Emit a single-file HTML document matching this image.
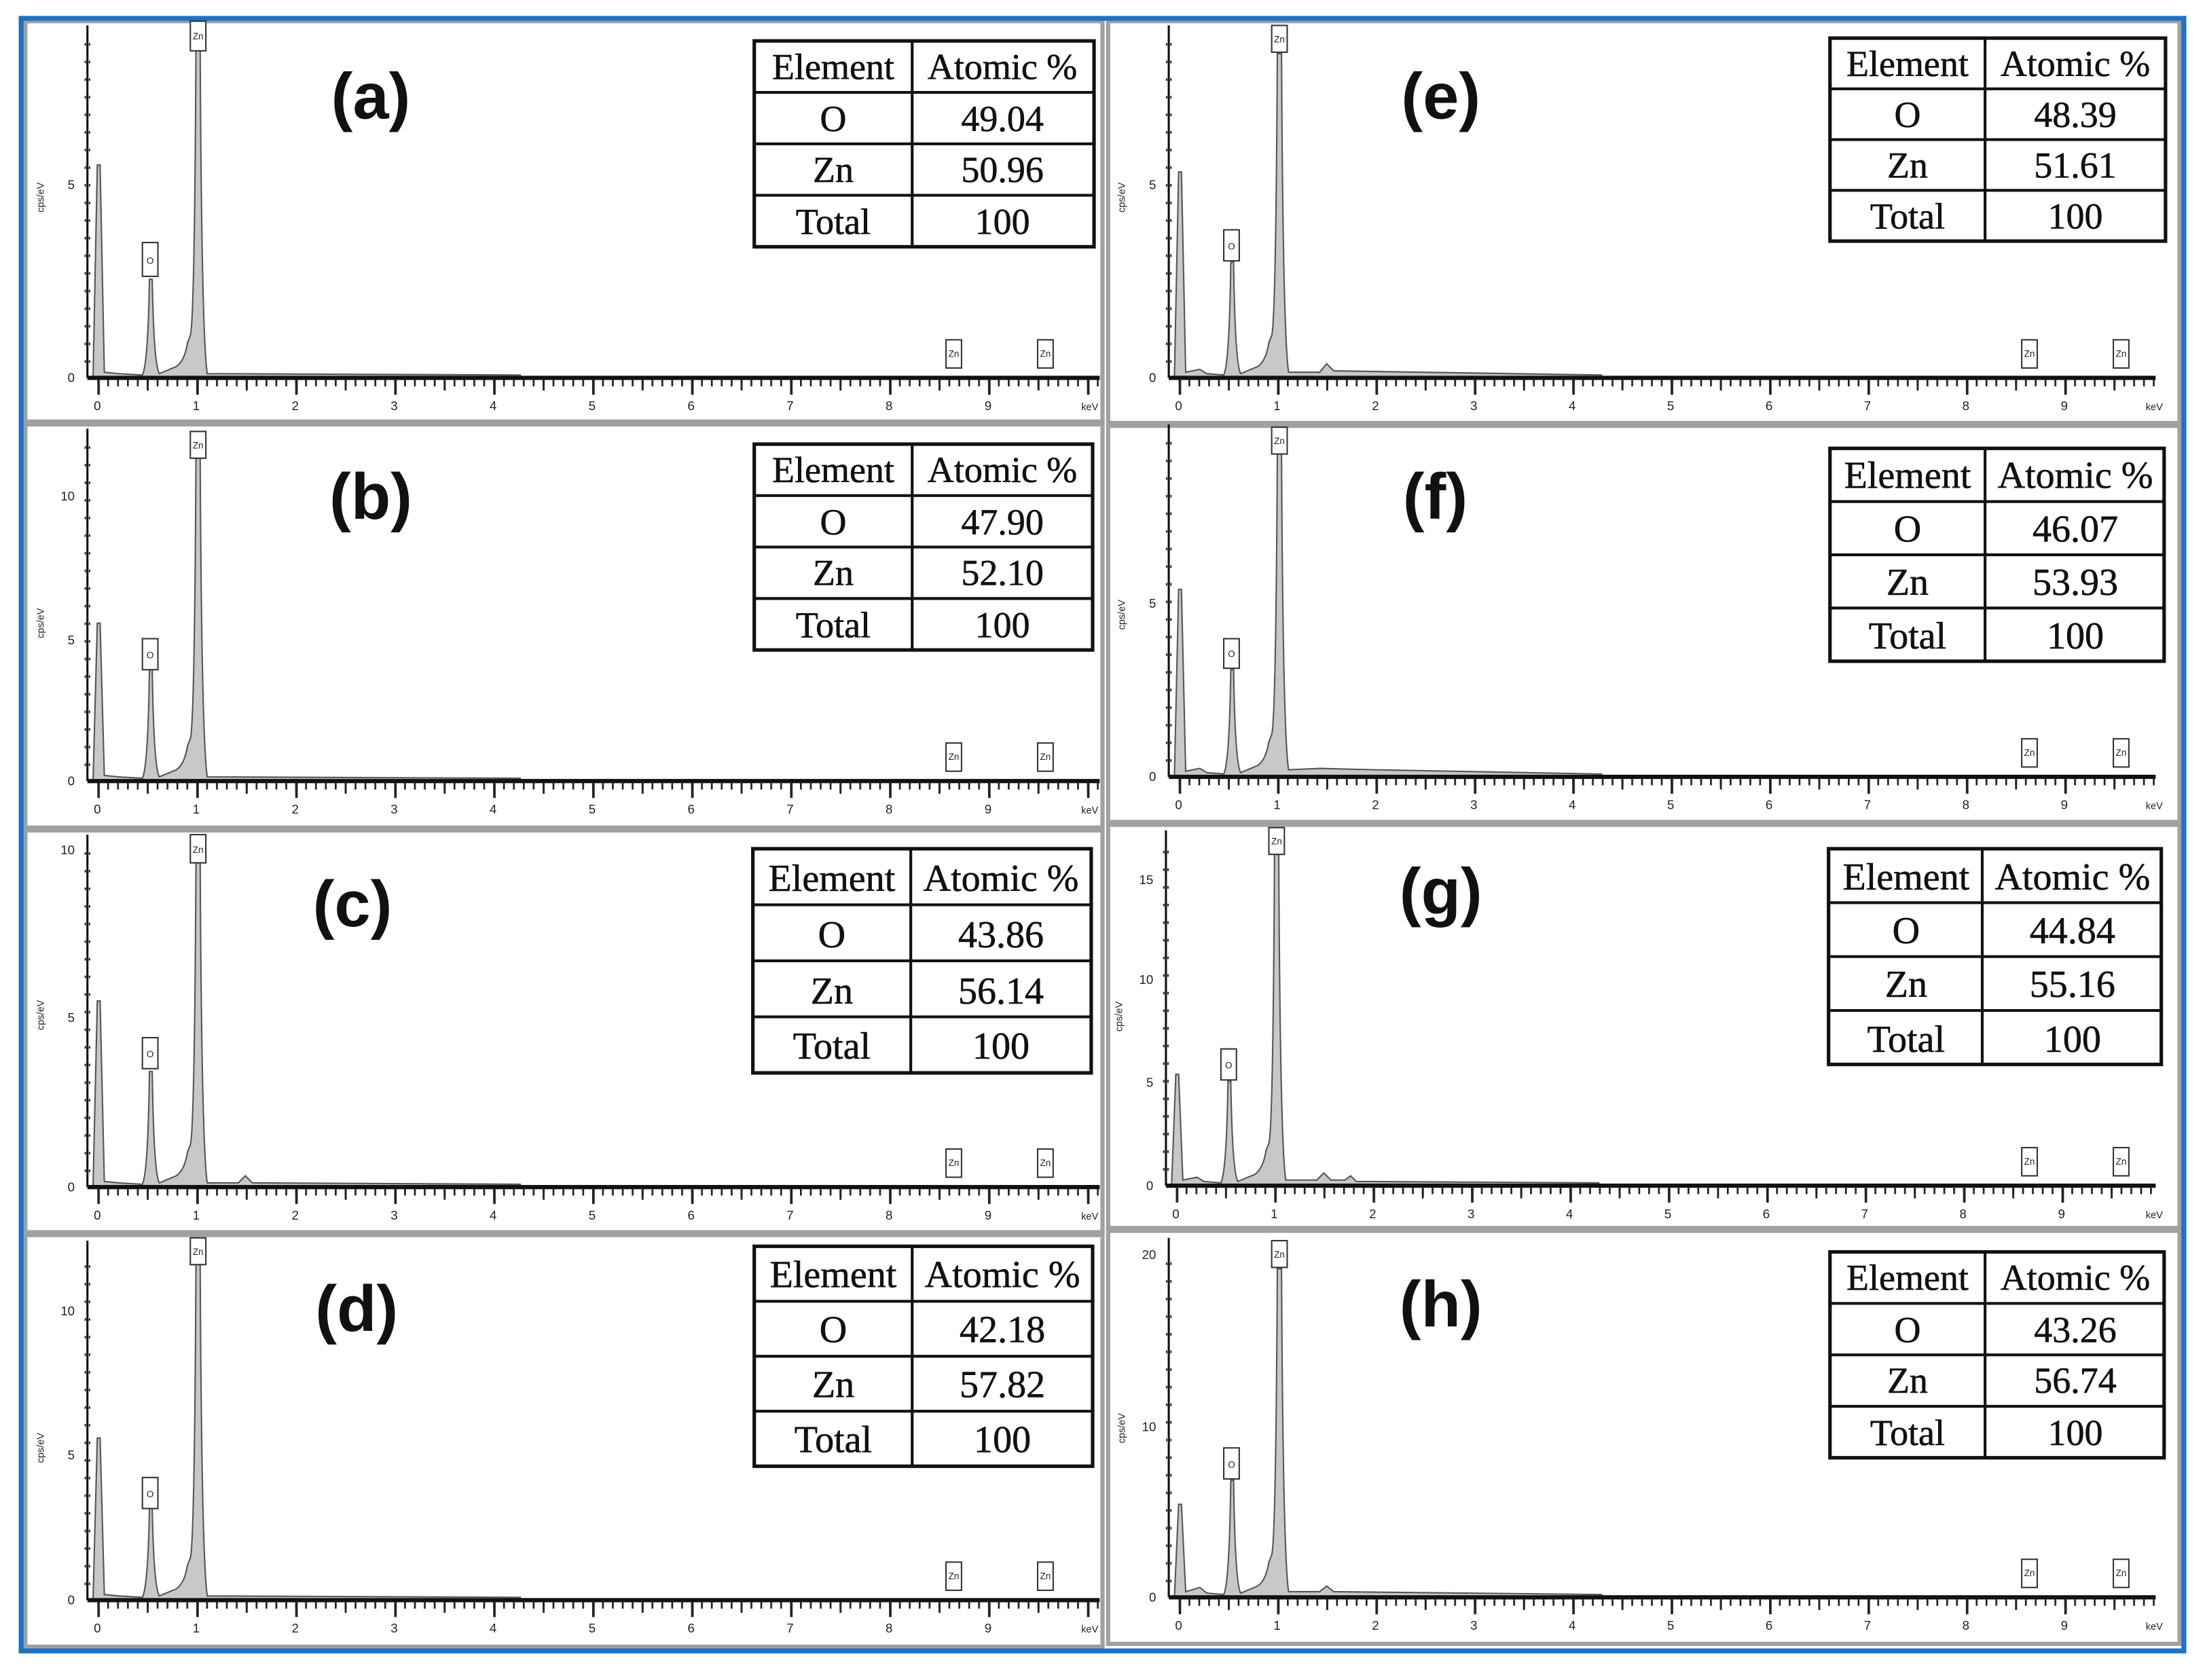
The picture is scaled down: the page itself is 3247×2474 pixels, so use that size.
<!DOCTYPE html>
<html><head><meta charset="utf-8"><style>html,body{margin:0;padding:0;background:#fff}svg{display:block}</style></head>
<body>
<svg xmlns="http://www.w3.org/2000/svg" width="3247" height="2474" viewBox="0 0 1564 1191.6">
<defs>
<pattern id="mnL" patternUnits="userSpaceOnUse" x="0" y="0" width="7.02" height="12"><rect x="0" y="0" width="1.3" height="6" fill="#222"/></pattern>
<pattern id="mjL" patternUnits="userSpaceOnUse" x="0" y="0" width="70.2" height="14"><rect x="0" y="0" width="1.8" height="12" fill="#222"/><rect x="35.1" y="0" width="1.4" height="9" fill="#222"/></pattern>
<pattern id="mnR" patternUnits="userSpaceOnUse" x="0" y="0" width="6.98" height="12"><rect x="0" y="0" width="1.3" height="6" fill="#222"/></pattern>
<pattern id="mjR" patternUnits="userSpaceOnUse" x="0" y="0" width="69.8" height="14"><rect x="0" y="0" width="1.8" height="12" fill="#222"/><rect x="34.9" y="0" width="1.4" height="9" fill="#222"/></pattern>
<pattern id="yt" patternUnits="userSpaceOnUse" x="0" y="0" width="6" height="12.5"><rect x="0" y="0" width="4" height="1.8" fill="#222"/></pattern>
</defs>
<rect width="1564" height="1191.6" fill="#fff"/>
<g fill="none" stroke="#a0a0a0" stroke-width="3">
<rect x="18" y="15" width="764" height="284"/><rect x="18" y="301" width="764" height="286"/><rect x="18" y="589" width="764" height="285"/><rect x="18" y="876" width="764" height="292"/>
<rect x="786" y="15" width="760" height="285"/><rect x="786" y="302" width="760" height="281"/><rect x="786" y="585" width="760" height="286"/><rect x="786" y="873" width="760" height="293"/>
</g>
<rect x="15" y="13" width="1534" height="1158" fill="none" stroke="#1a72c9" stroke-width="3.5"/>

<g font-family="Liberation Sans, sans-serif">
<g transform="translate(69,268)">
<rect x="-9" y="-248" width="4" height="248" fill="url(#yt)"/><line x1="-7" y1="-250" x2="-7" y2="0" stroke="#111" stroke-width="1.5"/>
<path d="M-3,0 L0,-151 L2,-151 L5,-4 L15,-3 L32,-2 Q36,-10 37,-70 L39,-70 Q40,-10 44,-3 L56,-8 Q62,-12 64,-25 L66,-30 Q69,-40 70,-233 L73,-233 Q74,-30 78,-3 L300,-2 L300,0 Z" fill="#c8c8c8" stroke="#555" stroke-width="1"/>
<rect x="-7" y="-1.5" width="718" height="3" fill="#111"/><rect x="0" y="1" width="711" height="6" fill="url(#mnL)"/><rect x="0" y="1" width="711" height="12" fill="url(#mjL)"/>
<g font-size="9" fill="#222" text-anchor="middle"><text x="0" y="23">0</text><text x="70.2" y="23">1</text><text x="140.4" y="23">2</text><text x="210.6" y="23">3</text><text x="280.8" y="23">4</text><text x="351" y="23">5</text><text x="421.2" y="23">6</text><text x="491.4" y="23">7</text><text x="561.6" y="23">8</text><text x="631.8" y="23">9</text><text x="704" y="23" font-size="7">keV</text>
<text x="-16" y="3" text-anchor="end">0</text><text x="-16" y="-134" text-anchor="end">5</text>
<text transform="translate(-38,-128) rotate(-90)" font-size="7">cps/eV</text></g>
<g fill="#fff" stroke="#333" stroke-width="1"><rect x="32" y="-96" width="11" height="24"/><rect x="66" y="-253" width="11" height="21"/><rect x="602" y="-27" width="11" height="20"/><rect x="667" y="-27" width="11" height="20"/></g>
<g font-size="6.5" fill="#222" text-anchor="middle"><text x="37.5" y="-81">O</text><text x="71.5" y="-240">Zn</text><text x="607.5" y="-15">Zn</text><text x="672.5" y="-15">Zn</text></g>
</g>

<g transform="translate(69,554)">
<rect x="-9" y="-248" width="4" height="248" fill="url(#yt)"/><line x1="-7" y1="-250" x2="-7" y2="0" stroke="#111" stroke-width="1.5"/>
<path d="M-3,0 L0,-112 L2,-112 L5,-4 L15,-3 L32,-2 Q36,-10 37,-79 L39,-79 Q40,-10 44,-3 L56,-8 Q62,-12 64,-25 L66,-30 Q69,-40 70,-229 L73,-229 Q74,-30 78,-3 L300,-2 L300,0 Z" fill="#c8c8c8" stroke="#555" stroke-width="1"/>
<rect x="-7" y="-1.5" width="718" height="3" fill="#111"/><rect x="0" y="1" width="711" height="6" fill="url(#mnL)"/><rect x="0" y="1" width="711" height="12" fill="url(#mjL)"/>
<g font-size="9" fill="#222" text-anchor="middle"><text x="0" y="23">0</text><text x="70.2" y="23">1</text><text x="140.4" y="23">2</text><text x="210.6" y="23">3</text><text x="280.8" y="23">4</text><text x="351" y="23">5</text><text x="421.2" y="23">6</text><text x="491.4" y="23">7</text><text x="561.6" y="23">8</text><text x="631.8" y="23">9</text><text x="704" y="23" font-size="7">keV</text>
<text x="-16" y="3" text-anchor="end">0</text><text x="-16" y="-97" text-anchor="end">5</text><text x="-16" y="-199" text-anchor="end">10</text>
<text transform="translate(-38,-112) rotate(-90)" font-size="7">cps/eV</text></g>
<g fill="#fff" stroke="#333" stroke-width="1"><rect x="32" y="-101" width="11" height="22"/><rect x="66" y="-248" width="11" height="19"/><rect x="602" y="-27" width="11" height="20"/><rect x="667" y="-27" width="11" height="20"/></g>
<g font-size="6.5" fill="#222" text-anchor="middle"><text x="37.5" y="-87">O</text><text x="71.5" y="-236">Zn</text><text x="607.5" y="-15">Zn</text><text x="672.5" y="-15">Zn</text></g>
</g>

<g transform="translate(69,842)">
<rect x="-9" y="-248" width="4" height="248" fill="url(#yt)"/><line x1="-7" y1="-250" x2="-7" y2="0" stroke="#111" stroke-width="1.5"/>
<path d="M-3,0 L0,-132 L2,-132 L5,-4 L15,-3 L32,-2 Q36,-10 37,-82 L39,-82 Q40,-10 44,-3 L56,-8 Q62,-12 64,-25 L66,-30 Q69,-40 70,-230 L73,-230 Q74,-30 78,-3 L100,-3 L105,-8 L110,-3 L300,-2 L300,0 Z" fill="#c8c8c8" stroke="#555" stroke-width="1"/>
<rect x="-7" y="-1.5" width="718" height="3" fill="#111"/><rect x="0" y="1" width="711" height="6" fill="url(#mnL)"/><rect x="0" y="1" width="711" height="12" fill="url(#mjL)"/>
<g font-size="9" fill="#222" text-anchor="middle"><text x="0" y="23">0</text><text x="70.2" y="23">1</text><text x="140.4" y="23">2</text><text x="210.6" y="23">3</text><text x="280.8" y="23">4</text><text x="351" y="23">5</text><text x="421.2" y="23">6</text><text x="491.4" y="23">7</text><text x="561.6" y="23">8</text><text x="631.8" y="23">9</text><text x="704" y="23" font-size="7">keV</text>
<text x="-16" y="3" text-anchor="end">0</text><text x="-16" y="-117" text-anchor="end">5</text><text x="-16" y="-236" text-anchor="end">10</text>
<text transform="translate(-38,-122) rotate(-90)" font-size="7">cps/eV</text></g>
<g fill="#fff" stroke="#333" stroke-width="1"><rect x="32" y="-106" width="11" height="22"/><rect x="66" y="-250" width="11" height="20"/><rect x="602" y="-27" width="11" height="20"/><rect x="667" y="-27" width="11" height="20"/></g>
<g font-size="6.5" fill="#222" text-anchor="middle"><text x="37.5" y="-92">O</text><text x="71.5" y="-237">Zn</text><text x="607.5" y="-15">Zn</text><text x="672.5" y="-15">Zn</text></g>
</g>

<g transform="translate(69,1135)">
<rect x="-9" y="-248" width="4" height="248" fill="url(#yt)"/><line x1="-7" y1="-255" x2="-7" y2="0" stroke="#111" stroke-width="1.5"/>
<path d="M-3,0 L0,-115 L2,-115 L5,-4 L15,-3 L32,-2 Q36,-10 37,-65 L39,-65 Q40,-10 44,-3 L56,-8 Q62,-12 64,-25 L66,-30 Q69,-40 70,-238 L73,-238 Q74,-30 78,-3 L300,-2 L300,0 Z" fill="#c8c8c8" stroke="#555" stroke-width="1"/>
<rect x="-7" y="-1.5" width="718" height="3" fill="#111"/><rect x="0" y="1" width="711" height="6" fill="url(#mnL)"/><rect x="0" y="1" width="711" height="12" fill="url(#mjL)"/>
<g font-size="9" fill="#222" text-anchor="middle"><text x="0" y="23">0</text><text x="70.2" y="23">1</text><text x="140.4" y="23">2</text><text x="210.6" y="23">3</text><text x="280.8" y="23">4</text><text x="351" y="23">5</text><text x="421.2" y="23">6</text><text x="491.4" y="23">7</text><text x="561.6" y="23">8</text><text x="631.8" y="23">9</text><text x="704" y="23" font-size="7">keV</text>
<text x="-16" y="3" text-anchor="end">0</text><text x="-16" y="-100" text-anchor="end">5</text><text x="-16" y="-202" text-anchor="end">10</text>
<text transform="translate(-38,-108) rotate(-90)" font-size="7">cps/eV</text></g>
<g fill="#fff" stroke="#333" stroke-width="1"><rect x="32" y="-87" width="11" height="22"/><rect x="66" y="-257" width="11" height="19"/><rect x="602" y="-27" width="11" height="20"/><rect x="667" y="-27" width="11" height="20"/></g>
<g font-size="6.5" fill="#222" text-anchor="middle"><text x="37.5" y="-73">O</text><text x="71.5" y="-245">Zn</text><text x="607.5" y="-15">Zn</text><text x="672.5" y="-15">Zn</text></g>
</g>

<g transform="translate(836,268)">
<rect x="-9" y="-248" width="4" height="248" fill="url(#yt)"/><line x1="-7" y1="-250" x2="-7" y2="0" stroke="#111" stroke-width="1.5"/>
<path d="M-3,0 L0,-146 L2,-146 L5,-4 L15,-6 L20,-3 L32,-2 Q36,-10 37,-82 L39,-82 Q40,-10 44,-3 L56,-8 Q62,-12 64,-25 L66,-30 Q69,-40 70,-230 L73,-230 Q74,-30 78,-4 L100,-4 L105,-10 L110,-5 L300,-2 L300,0 Z" fill="#c8c8c8" stroke="#555" stroke-width="1"/>
<rect x="-7" y="-1.5" width="700" height="3" fill="#111"/><rect x="0" y="1" width="693" height="6" fill="url(#mnR)"/><rect x="0" y="1" width="693" height="12" fill="url(#mjR)"/>
<g font-size="9" fill="#222" text-anchor="middle"><text x="0" y="23">0</text><text x="69.8" y="23">1</text><text x="139.6" y="23">2</text><text x="209.4" y="23">3</text><text x="279.2" y="23">4</text><text x="349" y="23">5</text><text x="418.8" y="23">6</text><text x="488.6" y="23">7</text><text x="558.4" y="23">8</text><text x="628.2" y="23">9</text><text x="692" y="23" font-size="7">keV</text>
<text x="-16" y="3" text-anchor="end">0</text><text x="-16" y="-134" text-anchor="end">5</text>
<text transform="translate(-38,-128) rotate(-90)" font-size="7">cps/eV</text></g>
<g fill="#fff" stroke="#333" stroke-width="1"><rect x="32" y="-105" width="11" height="22"/><rect x="66" y="-250" width="11" height="19"/><rect x="598" y="-27" width="11" height="20"/><rect x="663" y="-27" width="11" height="20"/></g>
<g font-size="6.5" fill="#222" text-anchor="middle"><text x="37.5" y="-91">O</text><text x="71.5" y="-238">Zn</text><text x="603.5" y="-15">Zn</text><text x="668.5" y="-15">Zn</text></g>
</g>

<g transform="translate(836,551)">
<rect x="-9" y="-248" width="4" height="248" fill="url(#yt)"/><line x1="-7" y1="-250" x2="-7" y2="0" stroke="#111" stroke-width="1.5"/>
<path d="M-3,0 L0,-133 L2,-133 L5,-4 L15,-6 L20,-3 L32,-2 Q36,-10 37,-76 L39,-76 Q40,-10 44,-3 L56,-8 Q62,-12 64,-25 L66,-30 Q69,-40 70,-229 L73,-229 Q74,-30 78,-5 L100,-6 L140,-5 L300,-2 L300,0 Z" fill="#c8c8c8" stroke="#555" stroke-width="1"/>
<rect x="-7" y="-1.5" width="700" height="3" fill="#111"/><rect x="0" y="1" width="693" height="6" fill="url(#mnR)"/><rect x="0" y="1" width="693" height="12" fill="url(#mjR)"/>
<g font-size="9" fill="#222" text-anchor="middle"><text x="0" y="23">0</text><text x="69.8" y="23">1</text><text x="139.6" y="23">2</text><text x="209.4" y="23">3</text><text x="279.2" y="23">4</text><text x="349" y="23">5</text><text x="418.8" y="23">6</text><text x="488.6" y="23">7</text><text x="558.4" y="23">8</text><text x="628.2" y="23">9</text><text x="692" y="23" font-size="7">keV</text>
<text x="-16" y="3" text-anchor="end">0</text><text x="-16" y="-120" text-anchor="end">5</text>
<text transform="translate(-38,-115) rotate(-90)" font-size="7">cps/eV</text></g>
<g fill="#fff" stroke="#333" stroke-width="1"><rect x="32" y="-98" width="11" height="21"/><rect x="66" y="-248" width="11" height="19"/><rect x="598" y="-27" width="11" height="20"/><rect x="663" y="-27" width="11" height="20"/></g>
<g font-size="6.5" fill="#222" text-anchor="middle"><text x="37.5" y="-85">O</text><text x="71.5" y="-236">Zn</text><text x="603.5" y="-15">Zn</text><text x="668.5" y="-15">Zn</text></g>
</g>

<g transform="translate(834,841)">
<rect x="-9" y="-248" width="4" height="248" fill="url(#yt)"/><line x1="-7" y1="-252" x2="-7" y2="0" stroke="#111" stroke-width="1.5"/>
<path d="M-3,0 L0,-79 L2,-79 L5,-4 L15,-6 L20,-3 L32,-2 Q36,-10 37,-74 L39,-74 Q40,-10 44,-3 L56,-8 Q62,-12 64,-25 L66,-30 Q69,-40 70,-235 L73,-235 Q74,-30 78,-4 L100,-4 L105,-9 L110,-4 L120,-4 L124,-7 L128,-3 L300,-2 L300,0 Z" fill="#c8c8c8" stroke="#555" stroke-width="1"/>
<rect x="-7" y="-1.5" width="702" height="3" fill="#111"/><rect x="0" y="1" width="695" height="6" fill="url(#mnR)"/><rect x="0" y="1" width="695" height="12" fill="url(#mjR)"/>
<g font-size="9" fill="#222" text-anchor="middle"><text x="0" y="23">0</text><text x="69.8" y="23">1</text><text x="139.6" y="23">2</text><text x="209.4" y="23">3</text><text x="279.2" y="23">4</text><text x="349" y="23">5</text><text x="418.8" y="23">6</text><text x="488.6" y="23">7</text><text x="558.4" y="23">8</text><text x="628.2" y="23">9</text><text x="694" y="23" font-size="7">keV</text>
<text x="-16" y="3" text-anchor="end">0</text><text x="-16" y="-70" text-anchor="end">5</text><text x="-16" y="-143" text-anchor="end">10</text><text x="-16" y="-214" text-anchor="end">15</text>
<text transform="translate(-38,-120) rotate(-90)" font-size="7">cps/eV</text></g>
<g fill="#fff" stroke="#333" stroke-width="1"><rect x="32" y="-97" width="11" height="22"/><rect x="66" y="-254" width="11" height="19"/><rect x="600" y="-27" width="11" height="20"/><rect x="665" y="-27" width="11" height="20"/></g>
<g font-size="6.5" fill="#222" text-anchor="middle"><text x="37.5" y="-83">O</text><text x="71.5" y="-242">Zn</text><text x="605.5" y="-15">Zn</text><text x="670.5" y="-15">Zn</text></g>
</g>

<g transform="translate(836,1133)">
<rect x="-9" y="-248" width="4" height="248" fill="url(#yt)"/><line x1="-7" y1="-255" x2="-7" y2="0" stroke="#111" stroke-width="1.5"/>
<path d="M-3,0 L0,-66 L2,-66 L5,-4 L15,-7 L20,-3 L32,-2 Q36,-10 37,-83 L39,-83 Q40,-10 44,-3 L56,-8 Q62,-12 64,-25 L66,-30 Q69,-40 70,-233 L73,-233 Q74,-30 78,-4 L100,-4 L105,-8 L110,-4 L300,-2 L300,0 Z" fill="#c8c8c8" stroke="#555" stroke-width="1"/>
<rect x="-7" y="-1.5" width="700" height="3" fill="#111"/><rect x="0" y="1" width="693" height="6" fill="url(#mnR)"/><rect x="0" y="1" width="693" height="12" fill="url(#mjR)"/>
<g font-size="9" fill="#222" text-anchor="middle"><text x="0" y="23">0</text><text x="69.8" y="23">1</text><text x="139.6" y="23">2</text><text x="209.4" y="23">3</text><text x="279.2" y="23">4</text><text x="349" y="23">5</text><text x="418.8" y="23">6</text><text x="488.6" y="23">7</text><text x="558.4" y="23">8</text><text x="628.2" y="23">9</text><text x="692" y="23" font-size="7">keV</text>
<text x="-16" y="3" text-anchor="end">0</text><text x="-16" y="-118" text-anchor="end">10</text><text x="-16" y="-240" text-anchor="end">20</text>
<text transform="translate(-38,-120) rotate(-90)" font-size="7">cps/eV</text></g>
<g fill="#fff" stroke="#333" stroke-width="1"><rect x="32" y="-106" width="11" height="22"/><rect x="66" y="-253" width="11" height="19"/><rect x="598" y="-27" width="11" height="20"/><rect x="663" y="-27" width="11" height="20"/></g>
<g font-size="6.5" fill="#222" text-anchor="middle"><text x="37.5" y="-92">O</text><text x="71.5" y="-241">Zn</text><text x="603.5" y="-15">Zn</text><text x="668.5" y="-15">Zn</text></g>
</g>

<g font-size="46" font-weight="bold" fill="#111" text-anchor="middle">
<text x="263" y="84">(a)</text><text x="263" y="368">(b)</text><text x="250" y="657">(c)</text><text x="253" y="944">(d)</text>
<text x="1022" y="84">(e)</text><text x="1018" y="368">(f)</text><text x="1022" y="648">(g)</text><text x="1022" y="941">(h)</text>
</g>
</g>

<g font-family="Liberation Serif, serif" fill="#111" text-anchor="middle" stroke="#111" stroke-width="0.3">
<g>
<rect x="535" y="29" width="241" height="146" fill="#fff" stroke="#111" stroke-width="2.5"/>
<path d="M647,29V175M535,65.5H776M535,102H776M535,138.5H776" stroke="#111" stroke-width="2" fill="none"/>
<g font-size="26"><text x="591" y="56">Element</text><text x="711" y="56">Atomic %</text><text x="591" y="93">O</text><text x="711" y="93">49.04</text><text x="591" y="129">Zn</text><text x="711" y="129">50.96</text><text x="591" y="166">Total</text><text x="711" y="166">100</text></g>
</g>
<g>
<rect x="535" y="315" width="240" height="146" fill="#fff" stroke="#111" stroke-width="2.5"/>
<path d="M647,315V461M535,351.5H775M535,388H775M535,424.5H775" stroke="#111" stroke-width="2" fill="none"/>
<g font-size="26"><text x="591" y="342">Element</text><text x="711" y="342">Atomic %</text><text x="591" y="379">O</text><text x="711" y="379">47.90</text><text x="591" y="415">Zn</text><text x="711" y="415">52.10</text><text x="591" y="452">Total</text><text x="711" y="452">100</text></g>
</g>
<g>
<rect x="534" y="602" width="240" height="159" fill="#fff" stroke="#111" stroke-width="2.5"/>
<path d="M646,602V761M534,641.75H774M534,681.5H774M534,721.25H774" stroke="#111" stroke-width="2" fill="none"/>
<g font-size="27"><text x="590" y="632">Element</text><text x="710" y="632">Atomic %</text><text x="590" y="672">O</text><text x="710" y="672">43.86</text><text x="590" y="712">Zn</text><text x="710" y="712">56.14</text><text x="590" y="751">Total</text><text x="710" y="751">100</text></g>
</g>
<g>
<rect x="535" y="884" width="240" height="156" fill="#fff" stroke="#111" stroke-width="2.5"/>
<path d="M647,884V1040M535,923H775M535,962H775M535,1001H775" stroke="#111" stroke-width="2" fill="none"/>
<g font-size="27"><text x="591" y="913">Element</text><text x="711" y="913">Atomic %</text><text x="591" y="952">O</text><text x="711" y="952">42.18</text><text x="591" y="991">Zn</text><text x="711" y="991">57.82</text><text x="591" y="1030">Total</text><text x="711" y="1030">100</text></g>
</g>
<g>
<rect x="1298" y="27" width="238" height="144" fill="#fff" stroke="#111" stroke-width="2.5"/>
<path d="M1408,27V171M1298,63H1536M1298,99H1536M1298,135H1536" stroke="#111" stroke-width="2" fill="none"/>
<g font-size="26"><text x="1353" y="54">Element</text><text x="1472" y="54">Atomic %</text><text x="1353" y="90">O</text><text x="1472" y="90">48.39</text><text x="1353" y="126">Zn</text><text x="1472" y="126">51.61</text><text x="1353" y="162">Total</text><text x="1472" y="162">100</text></g>
</g>
<g>
<rect x="1298" y="318" width="237" height="151" fill="#fff" stroke="#111" stroke-width="2.5"/>
<path d="M1408,318V469M1298,355.75H1535M1298,393.5H1535M1298,431.25H1535" stroke="#111" stroke-width="2" fill="none"/>
<g font-size="27"><text x="1353" y="346">Element</text><text x="1472" y="346">Atomic %</text><text x="1353" y="384">O</text><text x="1472" y="384">46.07</text><text x="1353" y="422">Zn</text><text x="1472" y="422">53.93</text><text x="1353" y="460">Total</text><text x="1472" y="460">100</text></g>
</g>
<g>
<rect x="1297" y="602" width="236" height="153" fill="#fff" stroke="#111" stroke-width="2.5"/>
<path d="M1406,602V755M1297,640.25H1533M1297,678.5H1533M1297,716.75H1533" stroke="#111" stroke-width="2" fill="none"/>
<g font-size="27"><text x="1352" y="631">Element</text><text x="1470" y="631">Atomic %</text><text x="1352" y="669">O</text><text x="1470" y="669">44.84</text><text x="1352" y="707">Zn</text><text x="1470" y="707">55.16</text><text x="1352" y="746">Total</text><text x="1470" y="746">100</text></g>
</g>
<g>
<rect x="1298" y="888" width="237" height="146" fill="#fff" stroke="#111" stroke-width="2.5"/>
<path d="M1408,888V1034M1298,924.5H1535M1298,961H1535M1298,997.5H1535" stroke="#111" stroke-width="2" fill="none"/>
<g font-size="26"><text x="1353" y="915">Element</text><text x="1472" y="915">Atomic %</text><text x="1353" y="952">O</text><text x="1472" y="952">43.26</text><text x="1353" y="988">Zn</text><text x="1472" y="988">56.74</text><text x="1353" y="1025">Total</text><text x="1472" y="1025">100</text></g>
</g>
</g>
</svg>
</body></html>
